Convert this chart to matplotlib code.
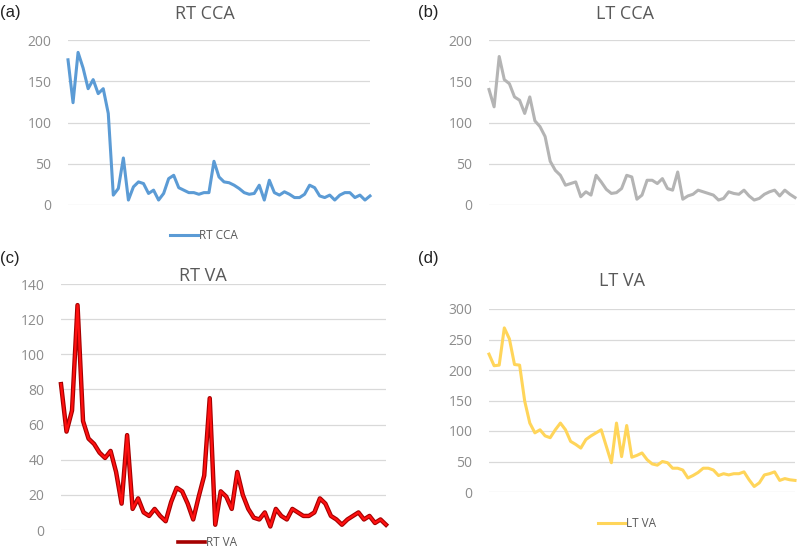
import matplotlib.pyplot as plt

W, H = 798, 549

rt_cca = [176, 124, 185, 166, 141, 152, 135, 141, 111, 12,
          20, 57, 6, 22, 28, 26, 14, 18, 6, 14,
          32, 36, 21, 18, 15, 15, 13, 15, 15, 53,
          34, 28, 27, 24, 20, 15, 13, 14, 24, 6,
          30, 15, 12, 16, 13, 9, 9, 13, 24, 21,
          11, 9, 12, 6, 12, 15, 15, 9, 12, 6, 11]
lt_cca = [140, 119, 180, 152, 147, 131, 127, 111, 131, 102,
          95, 83, 53, 42, 36, 24, 26, 28, 10, 16,
          12, 36, 28, 19, 14, 15, 20, 36, 34, 7,
          12, 30, 30, 26, 32, 20, 18, 40, 7, 11,
          13, 18, 16, 14, 12, 6, 8, 16, 14, 13,
          18, 11, 6, 8, 13, 16, 18, 11, 18, 13, 9]
rt_va = [83, 56, 68, 128, 62, 52, 49, 44, 41, 45,
         33, 15, 54, 12, 18, 10, 8, 12, 8, 5,
         16, 24, 22, 15, 6, 19, 31, 75, 3, 22,
         19, 12, 33, 20, 12, 7, 6, 10, 2, 12,
         8, 6, 12, 10, 8, 8, 10, 18, 15, 8,
         6, 3, 6, 8, 10, 6, 8, 4, 6, 3]
lt_va = [226, 207, 208, 269, 251, 209, 208, 149, 113, 97,
         102, 92, 89, 102, 113, 102, 83, 78, 72, 86,
         92, 97, 102, 75, 48, 113, 58, 109, 57, 60,
         64, 53, 46, 44, 50, 48, 39, 39, 36, 23,
         27, 32, 39, 39, 36, 27, 30, 28, 30, 30,
         33, 20, 9, 15, 28, 30, 33, 19, 22, 20, 19]

title_c = '#595959'
tick_c = '#8C8C8C'
grid_c = '#D9D9D9'
font = 'Open Sans'


def px_axes(fig, x0, y0, x1, y1):
    # pixel box measured from top-left
    return fig.add_axes([x0 / W, 1 - y1 / H, (x1 - x0) / W, (y1 - y0) / H])


def style(ax, data, ymax, step):
    ax.set_xlim(0, len(data) - 1)
    ax.set_ylim(0, ymax)
    ax.set_yticks(range(0, ymax + 1, step))
    ax.set_xticks([])
    for s in ax.spines.values():
        s.set_visible(False)
    ax.grid(axis='y', color=grid_c, linewidth=0.9)
    ax.set_axisbelow(True)
    ax.tick_params(axis='y', length=0, pad=12, labelcolor=tick_c, labelsize=10)
    for t in ax.get_yticklabels():
        t.set_fontfamily(font)


def legend(ax, handles, anchor):
    ax.legend(handles=handles, loc='upper center', bbox_to_anchor=anchor,
              frameon=False, prop={'family': font, 'size': 8.5},
              labelcolor=title_c, handlelength=2.3, handletextpad=0.1)


fig = plt.figure(figsize=(W / 100, H / 100), dpi=100)

# (a) RT CCA
ax = px_axes(fig, 68, 40, 370, 205)
ln, = ax.plot(rt_cca, color='#5B9BD5', linewidth=2.2, label='RT CCA', clip_on=False)
style(ax, rt_cca, 200, 50)
legend(ax, [ln], (0.45, -0.08))

# (b) LT CCA
ax = px_axes(fig, 489, 40, 795, 205)
ax.plot(lt_cca, color='#B4B4B4', linewidth=2.2, clip_on=False)
style(ax, lt_cca, 200, 50)

# (c) RT VA
ax = px_axes(fig, 61, 284, 386, 530)
ax.plot(rt_va, color='#A50000', linewidth=3.2, clip_on=False)
ax.plot(rt_va, color='#FF1010', linewidth=1.6, clip_on=False)
style(ax, rt_va, 140, 20)
leg_line, = ax.plot([], [], color='#A50000', linewidth=2.6, label='RT VA')
legend(ax, [leg_line], (0.45, 0.02))

# (d) LT VA
ax = px_axes(fig, 489, 309, 795, 492)
ln, = ax.plot(lt_va, color='#FFD55A', linewidth=2.2, label='LT VA', clip_on=False)
style(ax, lt_va, 300, 50)
legend(ax, [ln], (0.45, -0.08))

# titles
for txt, x, y in [('RT CCA', 205, 14), ('LT CCA', 625, 14),
                  ('RT VA', 203, 276), ('LT VA', 622, 281)]:
    fig.text(x / W, 1 - y / H, txt, ha='center', va='center',
             color=title_c, fontsize=13, family=font)

# panel labels
for txt, x, y in [('(a)', 0, 12), ('(b)', 418, 12), ('(c)', 0, 259), ('(d)', 418, 259)]:
    fig.text(x / W, 1 - y / H, txt, ha='left', va='center',
             color='#222222', fontsize=12, family='Liberation Sans')

fig.savefig('out.png', dpi=100)
